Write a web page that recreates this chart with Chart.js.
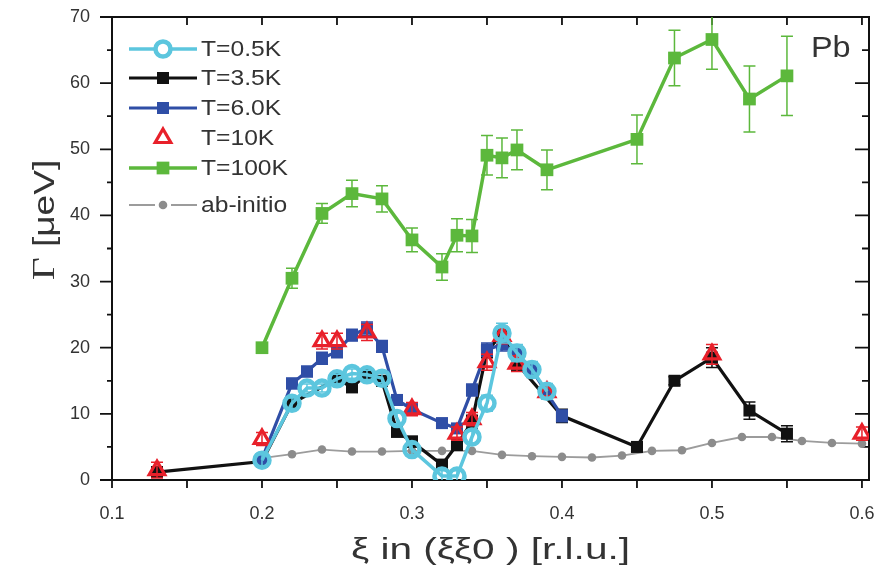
<!DOCTYPE html>
<html><head><meta charset="utf-8">
<script src="https://cdn.jsdelivr.net/npm/chart.js@4.4.1/dist/chart.umd.min.js"></script>
<style>html,body{margin:0;padding:0;background:#fff;}</style>
</head><body>
<canvas id="c" width="882" height="575"></canvas>
<script>
// ---- data ----
const xTickLabels = ['0.1','0.2','0.3','0.4','0.5','0.6'];
const yTickLabels = ['0','10','20','30','40','50','60','70'];

const xCyan = [0.20,0.22,0.23,0.24,0.25,0.26,0.27,0.28,0.29,0.30,0.32,0.33,0.34,0.35,0.36,0.37,0.38,0.39];
const yCyan = [3.0,11.6,13.9,13.9,15.3,16.1,15.9,15.4,9.3,4.6,0.6,0.6,6.5,11.6,22.2,19.2,16.7,13.4];
const eCyan = [0.8,0.8,0.6,0.6,0.7,0.7,0.7,0.7,0.8,0.8,0.8,0.8,1.0,1.2,1.5,1.3,1.2,1.2];

const xBlack = [0.13,0.20,0.22,0.25,0.26,0.27,0.28,0.29,0.30,0.32,0.33,0.34,0.35,0.36,0.37,0.40,0.45,0.475,0.50,0.525,0.55];
const yBlack = [1.2,2.8,11.6,15.3,14.0,16.0,15.0,7.3,5.8,2.3,5.3,8.8,19.5,22.0,17.6,9.7,5.0,15.0,18.5,10.5,7.0];
const eBlack = [0.8,0.6,0.8,0.7,0.7,0.7,0.7,0.8,0.8,0.8,0.8,1.0,1.0,1.2,1.0,1.0,0.7,0.6,1.5,1.3,1.2];

const xBlue = [0.20,0.22,0.23,0.24,0.25,0.26,0.27,0.28,0.29,0.30,0.32,0.33,0.34,0.35,0.36,0.37,0.38,0.39,0.40];
const yBlue = [3.2,14.6,16.4,18.4,19.4,21.9,22.9,20.2,12.1,10.7,8.6,7.8,13.6,19.7,20.5,19.2,16.6,13.1,9.7];
const eBlue = [0.6,0.8,0.8,0.9,0.9,0.9,1.0,0.9,0.8,0.8,0.7,0.7,0.9,1.0,1.0,1.0,0.9,0.9,0.9];

const xRed = [0.13,0.20,0.24,0.25,0.27,0.30,0.33,0.34,0.35,0.36,0.37,0.39,0.50,0.60];
const yRed = [1.5,6.2,21.0,21.0,22.3,10.7,7.0,9.2,17.8,21.8,17.6,13.3,19.0,7.0];
const eRed = [1.2,1.0,1.2,1.2,1.2,1.0,1.0,1.0,1.2,1.2,1.2,1.0,1.5,1.0];

const xGreen = [0.20,0.22,0.24,0.26,0.28,0.30,0.32,0.33,0.34,0.35,0.36,0.37,0.39,0.45,0.475,0.50,0.525,0.55];
const yGreen = [20.0,30.5,40.3,43.3,42.5,36.3,32.2,37.0,36.9,49.1,48.7,49.9,46.9,51.5,63.8,66.6,57.6,61.1];
const eGreen = [0.6,1.5,1.5,2.0,2.0,1.8,2.0,2.5,2.5,3.0,3.0,3.0,3.0,3.7,4.2,4.5,5.0,6.0];

const xAb = [0.20,0.22,0.24,0.26,0.28,0.30,0.32,0.34,0.36,0.38,0.40,0.42,0.44,0.46,0.48,0.50,0.52,0.54,0.56,0.58,0.60];
const yAb = [3.3,3.9,4.6,4.3,4.3,4.4,4.4,4.4,3.8,3.6,3.5,3.4,3.7,4.4,4.5,5.6,6.5,6.5,5.9,5.6,5.5];

const seriesNames = ['T=0.5K','T=3.5K','T=6.0K','T=10K','T=100K','ab-initio'];
const xTitle = 'ξ in (ξξ0 ) [r.l.u.]';
const yTitleSymbol = 'Γ';
const yTitleUnit = ' [μeV]';
const panelLabel = 'Pb';

const pts = (xs, ys) => xs.map((x, i) => ({x: x, y: ys[i]}));

const TXT = '#333333';
const SANS = '"Liberation Sans", Arial, sans-serif';

const datasets = [
  {label: seriesNames[0], data: pts(xCyan, yCyan), err: eCyan, errColor: '#5cc6de',
   borderColor: '#5cc6de', borderWidth: 3.5, pointStyle: 'circle', pointRadius: 7.5, pointBorderWidth: 4.5,
   pointBorderColor: '#5cc6de', pointBackgroundColor: 'rgba(255,255,255,0)', showLine: true, order: 1,
   clip: {left: 20, right: 20, top: 20, bottom: 0}},
  {label: seriesNames[1], data: pts(xBlack, yBlack), err: eBlack, errColor: '#111111',
   borderColor: '#111111', borderWidth: 3.2, pointStyle: 'rect', pointRadius: 8.5, pointBorderWidth: 0,
   pointBackgroundColor: '#111111', showLine: true, order: 4},
  {label: seriesNames[2], data: pts(xBlue, yBlue), err: eBlue, errColor: '#2f4ea6',
   borderColor: '#2f4ea6', borderWidth: 3.2, pointStyle: 'rect', pointRadius: 8.5, pointBorderWidth: 0,
   pointBackgroundColor: '#2f4ea6', showLine: true, order: 3},
  {label: seriesNames[3], data: pts(xRed, yRed), err: eRed, errColor: '#e8202a',
   borderColor: '#e8202a', borderWidth: 0, pointStyle: 'triangle', pointRadius: 9, pointBorderWidth: 3.2,
   pointBorderColor: '#e8202a', pointBackgroundColor: 'rgba(255,255,255,0)', showLine: false, order: 2},
  {label: seriesNames[4], data: pts(xGreen, yGreen), err: eGreen, errColor: '#5cb83c',
   borderColor: '#5cb83c', borderWidth: 3.5, pointStyle: 'rect', pointRadius: 9, pointBorderWidth: 0,
   pointBackgroundColor: '#5cb83c', showLine: true, order: 5},
  {label: seriesNames[5], data: pts(xAb, yAb),
   borderColor: '#9c9c9c', borderWidth: 1.8, pointStyle: 'circle', pointRadius: 4.3, pointBorderWidth: 0,
   pointBackgroundColor: '#8c8c8c', showLine: true, order: 6}
];

const framePlugin = {
  id: 'frame',
  beforeDatasetsDraw(chart) {
    const {ctx, chartArea: a, scales: {x, y}} = chart;
    ctx.save();
    ctx.strokeStyle = '#111';
    ctx.lineWidth = 2;
    ctx.strokeRect(a.left, a.top, a.right - a.left, a.bottom - a.top);
    ctx.lineWidth = 1.8;
    ctx.beginPath();
    for (let i = 0; i <= 10; i++) {
      const px = x.getPixelForValue(0.1 + i * 0.05);
      ctx.moveTo(px, a.bottom); ctx.lineTo(px, a.bottom + 8);
      ctx.moveTo(px, a.top); ctx.lineTo(px, a.top + 8);
    }
    for (let i = 0; i <= 14; i++) {
      const py = y.getPixelForValue(i * 5);
      const major = i % 2 === 0;
      ctx.moveTo(a.left, py); ctx.lineTo(a.left - (major ? 12 : 5), py);
      ctx.moveTo(a.right, py); ctx.lineTo(a.right - (major ? 14 : 7), py);
    }
    ctx.stroke();
    ctx.restore();
  }
};

const errPlugin = {
  id: 'errbars',
  beforeDatasetDraw(chart, args) {
    const ds = chart.data.datasets[args.index];
    if (!ds.err) return;
    const {ctx, chartArea: a} = chart;
    const y = chart.scales.y;
    ctx.save();
    ctx.beginPath();
    ctx.rect(a.left - 10, a.top, a.right - a.left + 20, a.bottom - a.top);
    ctx.clip();
    ctx.strokeStyle = ds.errColor;
    ctx.lineWidth = 1.5;
    ctx.beginPath();
    args.meta.data.forEach((pt, i) => {
      const e = ds.err[i];
      if (!e) return;
      const v = ds.data[i].y;
      const yt = y.getPixelForValue(v + e), yb = y.getPixelForValue(v - e);
      ctx.moveTo(pt.x, yt); ctx.lineTo(pt.x, yb);
      ctx.moveTo(pt.x - 6, yt); ctx.lineTo(pt.x + 6, yt);
      ctx.moveTo(pt.x - 6, yb); ctx.lineTo(pt.x + 6, yb);
    });
    ctx.stroke();
    ctx.restore();
  }
};

const legendRowsY = [49, 78, 108, 138, 168, 205];
const textPlugin = {
  id: 'texts',
  afterDraw(chart) {
    const {ctx, chartArea: a} = chart;
    ctx.save();
    // legend
    chart.data.datasets.forEach((ds, i) => {
      const yy = legendRowsY[i];
      const x0 = 129, x1 = 197, xm = 163;
      if (ds.showLine) {
        ctx.strokeStyle = ds.borderColor;
        ctx.lineWidth = ds.borderWidth;
        ctx.beginPath();
        if (i === 5) {
          ctx.moveTo(x0, yy); ctx.lineTo(xm - 8, yy);
          ctx.moveTo(xm + 8, yy); ctx.lineTo(x1, yy);
        } else {
          ctx.moveTo(x0, yy); ctx.lineTo(x1, yy);
        }
        ctx.stroke();
      }
      ctx.fillStyle = ds.pointBackgroundColor;
      ctx.strokeStyle = ds.pointBorderColor || ds.pointBackgroundColor;
      ctx.lineWidth = ds.pointBorderWidth;
      if (ds.pointBackgroundColor.indexOf('rgba') === 0) ctx.fillStyle = '#fff';
      Chart.helpers.drawPoint(ctx, {pointStyle: ds.pointStyle, radius: ds.pointRadius, rotation: 0,
        borderWidth: ds.pointBorderWidth}, xm, yy);
      ctx.fillStyle = TXT;
      ctx.font = '22px ' + SANS;
      ctx.textBaseline = 'middle';
      ctx.textAlign = 'left';
      ctx.save();
      ctx.translate(201, yy + 1);
      ctx.scale(1.12, 1);
      ctx.fillText(ds.label, 0, 0);
      ctx.restore();
    });
    // panel label
    ctx.save();
    ctx.fillStyle = TXT;
    ctx.font = '30px ' + SANS;
    ctx.textAlign = 'left';
    ctx.textBaseline = 'middle';
    ctx.translate(811, 49);
    ctx.scale(1.08, 1);
    ctx.fillText(panelLabel, 0, 0);
    ctx.restore();
    // x title
    ctx.save();
    ctx.fillStyle = TXT;
    ctx.font = '29px ' + SANS;
    ctx.textAlign = 'center';
    ctx.textBaseline = 'middle';
    ctx.translate((a.left + a.right) / 2, 551);
    ctx.scale(1.4, 1);
    ctx.fillText(xTitle, 0, 0);
    ctx.restore();
    // y title
    ctx.save();
    ctx.fillStyle = TXT;
    ctx.translate(46, 220);
    ctx.rotate(-Math.PI / 2);
    ctx.scale(1.28, 1);
    ctx.textBaseline = 'middle';
    ctx.textAlign = 'left';
    ctx.font = '31px "Liberation Serif", serif';
    const wg = ctx.measureText(yTitleSymbol).width;
    ctx.font = '29px ' + SANS;
    const wr = ctx.measureText(yTitleUnit).width;
    const start = -(wg + wr) / 2;
    ctx.font = '31px "Liberation Serif", serif';
    ctx.fillText(yTitleSymbol, start, 0);
    ctx.font = '29px ' + SANS;
    ctx.fillText(yTitleUnit, start + wg, 0);
    ctx.restore();
    ctx.restore();
  }
};

new Chart(document.getElementById('c'), {
  type: 'scatter',
  data: {datasets: datasets},
  plugins: [framePlugin, errPlugin, textPlugin],
  options: {
    responsive: false,
    animation: false,
    devicePixelRatio: 1,
    layout: {padding: {left: 0, top: 17, right: 13, bottom: 0}},
    plugins: {legend: {display: false}, tooltip: {enabled: false}},
    scales: {
      x: {
        type: 'linear', min: 0.1, max: 0.6047,
        grid: {display: false, drawTicks: true, tickLength: 23},
        border: {display: false},
        ticks: {stepSize: 0.1, includeBounds: false, autoSkip: false, maxRotation: 0, padding: 0,
          color: TXT, font: {family: SANS, size: 18},
          callback: (v) => { const k = Math.round((v - 0.1) / 0.1); return xTickLabels[k] !== undefined && Math.abs(v - 0.1 - k * 0.1) < 1e-6 ? xTickLabels[k] : ''; }},
        title: {display: false},
        afterFit: (s) => { s.height = 95; }
      },
      y: {
        min: 0, max: 70,
        grid: {display: false, drawTicks: true, tickLength: 22},
        border: {display: false},
        ticks: {stepSize: 10, padding: 0, color: TXT, font: {family: SANS, size: 18},
          callback: (v) => { const k = Math.round(v / 10); return yTickLabels[k] !== undefined ? yTickLabels[k] : ''; }},
        afterFit: (s) => { s.width = 112; }
      }
    }
  }
});
</script>
</body></html>
